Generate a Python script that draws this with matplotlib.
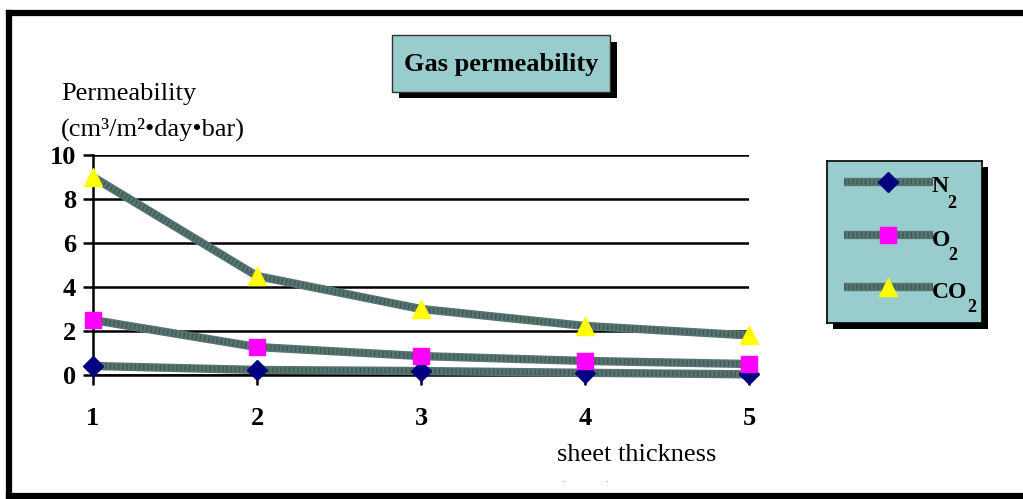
import matplotlib
matplotlib.use("Agg")
import matplotlib.pyplot as plt
from matplotlib.patches import Rectangle
from matplotlib.lines import Line2D

plt.rcParams['font.family'] = ['Liberation Serif', 'DejaVu Serif']

# ---- data ----
thickness = [1, 2, 3, 4, 5]
n2 = [0.41, 0.23, 0.18, 0.10, 0.03]
o2 = [2.50, 1.27, 0.86, 0.64, 0.50]
co2 = [9.00, 4.50, 3.00, 2.23, 1.80]
series_base = ["N", "O", "CO"]
series_sub = ["2", "2", "2"]
y_ticks = [0, 2, 4, 6, 8, 10]
x_ticks = [1, 2, 3, 4, 5]

W, H = 1023, 499
def fx(px): return px / W
def fy(py): return 1 - py / H

line_color = '#567470'
dot_color = '#2e4744'
markers = [('D', '#000080', 10), ('s', '#FF00FF', 11), ('^', '#FFFF00', 13)]

fig = plt.figure(figsize=(W / 100, H / 100), dpi=100)
ax = fig.add_axes([fx(93), fy(375), fx(749) - fx(93), fy(155) - fy(375)])

for vals in [n2, o2, co2]:
    ax.plot(thickness, vals, color=line_color, lw=6, solid_capstyle='butt', zorder=3, clip_on=False)
    ax.plot(thickness, vals, color=dot_color, lw=4, ls=(0, (0.25, 0.5)), zorder=3.1, clip_on=False, alpha=0.6)
for vals, (m, c, ms) in zip([n2, o2, co2], markers):
    ax.plot(thickness, vals, ls='none', marker=m, markersize=ms, markerfacecolor=c,
            markeredgecolor=c, zorder=5, clip_on=False)

ax.set_xlim(1, 5)
ax.set_ylim(0, 10)
ax.set_yticks(y_ticks)
ax.set_xticks(x_ticks)
ax.set_yticklabels([str(v) for v in y_ticks], fontsize=19, fontweight='bold')
ax.set_xticklabels([str(v) for v in x_ticks], fontsize=19, fontweight='bold')
ax.tick_params(axis='y', length=7, width=1.8, pad=5, direction='out')
ax.tick_params(axis='x', length=7, width=1.8, pad=16, direction='out')
ax.grid(axis='y', color='black', lw=1.8, zorder=1)
for s in ['top', 'right']:
    ax.spines[s].set_visible(False)
ax.spines['left'].set_linewidth(1.8)
ax.spines['bottom'].set_linewidth(1.8)

# axis labels
fig.text(fx(61), fy(94), "Permeability", fontsize=19, va='center', ha='left')
fig.text(fx(61), fy(129), "(cm³/m²•day•bar)", fontsize=19, va='center', ha='left')
fig.text(fx(637), fy(455), "sheet thickness", fontsize=19, va='center', ha='center')
mm = fig.text(fx(586), fy(493), "(mm)", fontsize=19, va='center', ha='center')
clip = Rectangle((0, fy(482)), 1, 1, transform=fig.transFigure, visible=False)
fig.add_artist(clip)
mm.set_clip_path(clip)

# title box with shadow
fig.add_artist(Rectangle((fx(399), fy(98)), fx(617) - fx(399), fy(42) - fy(98),
                         transform=fig.transFigure, facecolor='black', edgecolor='none'))
fig.add_artist(Rectangle((fx(392), fy(92)), fx(610) - fx(392), fy(35) - fy(92),
                         transform=fig.transFigure, facecolor='#99CCCC', edgecolor='#333333', lw=1))
fig.text(fx(501), fy(65), "Gas permeability", fontsize=19, fontweight='bold', ha='center', va='center')

# legend box with shadow
fig.add_artist(Rectangle((fx(833), fy(329)), fx(988) - fx(833), fy(167) - fy(329),
                         transform=fig.transFigure, facecolor='black', edgecolor='none', zorder=-1))
lax = fig.add_axes([fx(827), fy(323), fx(982) - fx(827), fy(161) - fy(323)])
lax.set_zorder(5)
lax.set_facecolor('#99CCCC')
lax.set_xlim(0, 155)
lax.set_ylim(162, 0)
lax.set_xticks([]); lax.set_yticks([])
for s in lax.spines.values():
    s.set_linewidth(1.2)
sub_x = [120, 121, 140]
for i, (base, sub, (m, c, ms)) in enumerate(zip(series_base, series_sub, markers)):
    yy = [21, 74, 126][i]
    lax.plot([17, 106], [yy, yy], color=line_color, lw=6, solid_capstyle='butt')
    lax.plot([17, 106], [yy, yy], color=dot_color, lw=4, ls=(0, (0.25, 0.5)), alpha=0.6)
    lax.plot([61], [yy], marker=m, markersize=ms, markerfacecolor=c, markeredgecolor=c, ls='none')
    lax.text(105, yy + 5, base, fontsize=17, fontweight='bold', va='center', ha='left')
    lax.text(sub_x[i], yy + 21, sub, fontsize=13, fontweight='bold', va='center', ha='left')

# outer frame (left, top, bottom)
frame_kw = dict(color='black', lw=4.5, transform=fig.transFigure, solid_capstyle='projecting')
fig.add_artist(Line2D([fx(9), fx(9)], [fy(13), fy(496)], **frame_kw))
fig.add_artist(Line2D([fx(9), 1.0], [fy(13), fy(13)], **frame_kw))
fig.add_artist(Line2D([fx(9), 1.0], [fy(496), fy(496)], **frame_kw))

fig.savefig("out.png", dpi=100)
